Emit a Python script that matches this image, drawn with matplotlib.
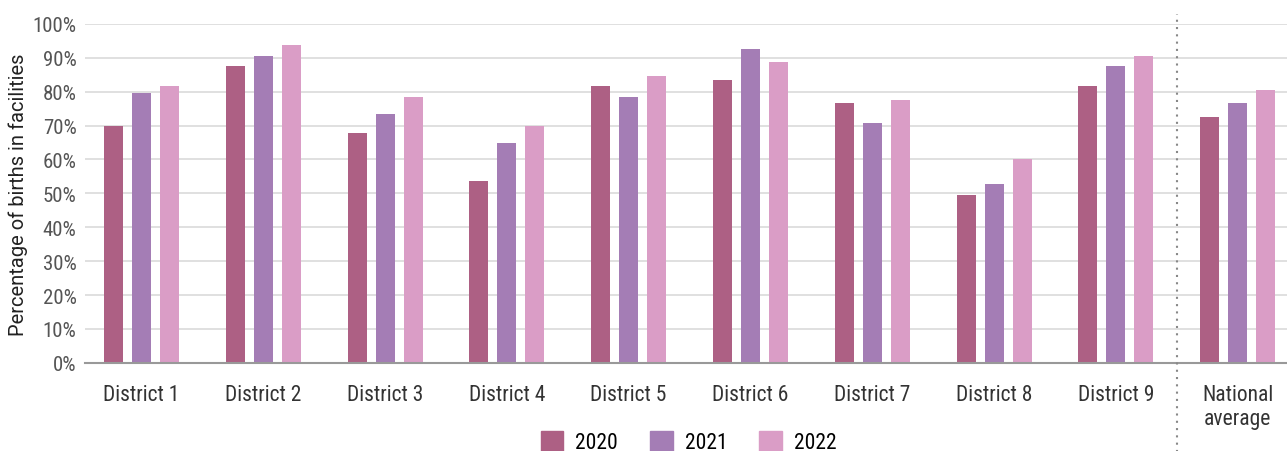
import matplotlib
matplotlib.use("Agg")
import matplotlib.pyplot as plt
from matplotlib.patches import Patch
import numpy as np

plt.rcParams['font.family'] = ['Roboto Condensed', 'Roboto', 'DejaVu Sans']

categories = ["District 1", "District 2", "District 3", "District 4", "District 5",
              "District 6", "District 7", "District 8", "District 9", "National\naverage"]
years = ["2020", "2021", "2022"]
values_2020 = [70, 87.6, 67.8, 53.7, 81.7, 83.5, 76.7, 49.6, 81.7, 72.6]
values_2021 = [79.7, 90.6, 73.5, 65, 78.5, 92.6, 70.8, 52.8, 87.6, 76.7]
values_2022 = [81.8, 93.8, 78.5, 70, 84.7, 88.8, 77.6, 60, 90.6, 80.5]
yticks = [0, 10, 20, 30, 40, 50, 60, 70, 80, 90, 100]

colors = ["#AD6084", "#A47DB5", "#DA9DC6"]
series = [values_2020, values_2021, values_2022]

fig = plt.figure(figsize=(12.87, 4.52), dpi=100)
ax = fig.add_axes([0.066, 0.195, 0.934, 0.75])

x = np.arange(len(categories))
offsets = [-0.23, 0, 0.23]
for vals, off, c, lab in zip(series, offsets, colors, years):
    ax.bar(x + off, vals, width=0.156, color=c, label=lab, zorder=3)

ax.set_xlim(-0.464, 9.405)
ax.set_ylim(0, 100)
ax.set_yticks(yticks)
ax.set_yticklabels([f"{t}%" for t in yticks], color="#555555", fontsize=15)
ax.set_xticks(x)
ax.set_xticklabels(categories, color="#333333", fontsize=15.5, linespacing=1.2)
ax.tick_params(axis='y', length=0, pad=6)
ax.tick_params(axis='x', length=0, pad=15)
ax.grid(axis='y', color="#dddddd", linewidth=1.3, zorder=0)
for s in ["top", "right", "left"]:
    ax.spines[s].set_visible(False)
ax.spines["bottom"].set_color("#999999")
ax.spines["bottom"].set_linewidth(1.5)
ax.spines["bottom"].set_zorder(4)

ax.set_ylabel("Percentage of births in facilities", fontsize=14.5, color="#222222",
              labelpad=3, family=['Roboto', 'DejaVu Sans'])

ax.plot([8.5, 8.5], [-28, 103], linestyle=(0, (1, 2.5)), color="#888888", linewidth=1.5,
        clip_on=False, zorder=5)

handles = [Patch(color=c, label=l) for c, l in zip(colors, years)]
fig.legend(handles=handles, loc="center", bbox_to_anchor=(0.535, 0.02), ncol=3,
           frameon=False, fontsize=15.5, handlelength=1.05, handleheight=1.1,
           columnspacing=1.5, handletextpad=0.55, borderaxespad=0, borderpad=0)

fig.savefig("out.png", dpi=100)
